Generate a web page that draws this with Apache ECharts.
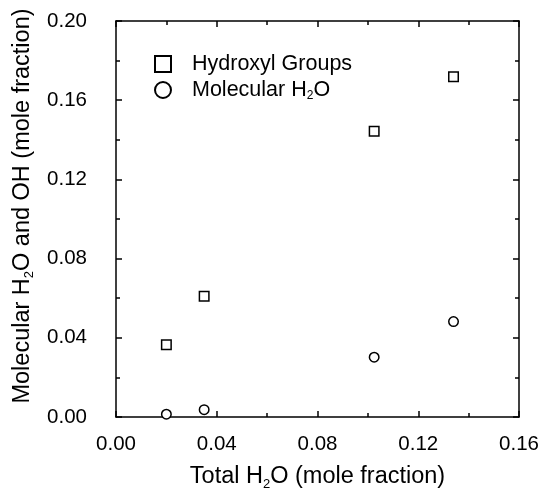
<!DOCTYPE html>
<html>
<head>
<meta charset="utf-8">
<script src="https://cdn.jsdelivr.net/npm/echarts@6/dist/echarts.min.js"></script>
<style>
html,body{margin:0;padding:0;background:#fff;}
#chart{width:542px;height:496px;}
</style>
</head>
<body>
<div id="chart"></div>
<script>
// Data
const totalH2O = [0.020, 0.035, 0.1025, 0.134];
const hydroxylGroups = [0.0365, 0.061, 0.1443, 0.1718];
const molecularH2O = [0.0014, 0.0037, 0.0302, 0.0482];
const seriesNames = ['Hydroxyl Groups', 'Molecular H2O'];
const xTicks = [0.00, 0.04, 0.08, 0.12, 0.16];
const yTicks = [0.00, 0.04, 0.08, 0.12, 0.16, 0.20];

const FONT = 'Liberation Sans, Arial, Helvetica, sans-serif';
const chart = echarts.init(document.getElementById('chart'), null, {renderer: 'canvas'});

const titleRich = {
  a: {fontSize: 23.5, lineHeight: 28, fontFamily: FONT, color: '#000'},
  s: {fontSize: 13, lineHeight: 12, verticalAlign: 'bottom', fontFamily: FONT, color: '#000'}
};
const legRich = {
  a: {fontSize: 21.5, lineHeight: 24, fontFamily: FONT, color: '#000'},
  s: {fontSize: 12, lineHeight: 10, verticalAlign: 'bottom', fontFamily: FONT, color: '#000'}
};

const axisCommon = {
  type: 'value',
  min: 0,
  interval: 0.04,
  axisLine: {show: true, onZero: false, lineStyle: {color: '#000', width: 1.5}},
  axisTick: {show: true, inside: true, length: 6, lineStyle: {color: '#000', width: 1.5}},
  minorTick: {show: true, splitNumber: 2, length: 4, lineStyle: {color: '#000', width: 1.5}},
  splitLine: {show: false},
  minorSplitLine: {show: false}
};

chart.setOption({
  animation: false,
  backgroundColor: '#fff',
  grid: {left: 116, top: 21, width: 403, height: 403},
  legend: {
    orient: 'vertical',
    left: 154,
    top: 53,
    padding: 0,
    itemWidth: 16,
    itemHeight: 16,
    itemGap: 4,
    data: seriesNames,
    formatter: function (n) {
      return n === 'Molecular H2O' ? '{a|Molecular H}{s|2}{a|O}' : '{a|' + n + '}';
    },
    textStyle: {fontSize: 21.5, fontFamily: FONT, color: '#000', padding: [0, 0, 0, 16], rich: legRich}
  },
  xAxis: [
    Object.assign({}, axisCommon, {
      max: 0.16,
      position: 'bottom',
      name: '{a|Total H}{s|2}{a|O (mole fraction)}',
      nameLocation: 'middle',
      nameGap: 46,
      nameTextStyle: {rich: titleRich},
      axisLabel: {
        show: true, margin: 17, fontSize: 20.5, fontFamily: FONT, color: '#000',
        formatter: v => v.toFixed(2)
      }
    }),
    Object.assign({}, axisCommon, {
      max: 0.16,
      position: 'top',
      axisLabel: {show: false}
    })
  ],
  yAxis: [
    Object.assign({}, axisCommon, {
      max: 0.20,
      position: 'left',
      name: '{a|Molecular H}{s|2}{a|O and OH (mole fraction)}',
      nameLocation: 'middle',
      nameGap: 79,
      nameTextStyle: {rich: titleRich, padding: [0, 0, 0, 26]},
      axisLabel: {
        show: true, margin: 29, fontSize: 20.5, fontFamily: FONT, color: '#000',
        formatter: v => v.toFixed(2)
      }
    }),
    Object.assign({}, axisCommon, {
      max: 0.20,
      position: 'right',
      axisLabel: {show: false}
    })
  ],
  series: [
    {
      name: seriesNames[0],
      type: 'scatter',
      symbol: 'rect',
      symbolSize: 9.5,
      data: totalH2O.map((x, i) => [x, hydroxylGroups[i]]),
      itemStyle: {color: '#fff', borderColor: '#000', borderWidth: 1.5, opacity: 1}
    },
    {
      name: seriesNames[1],
      type: 'scatter',
      symbol: 'circle',
      symbolSize: 9.5,
      data: totalH2O.map((x, i) => [x, molecularH2O[i]]),
      itemStyle: {color: '#fff', borderColor: '#000', borderWidth: 1.5, opacity: 1}
    }
  ]
});
</script>
</body>
</html>
